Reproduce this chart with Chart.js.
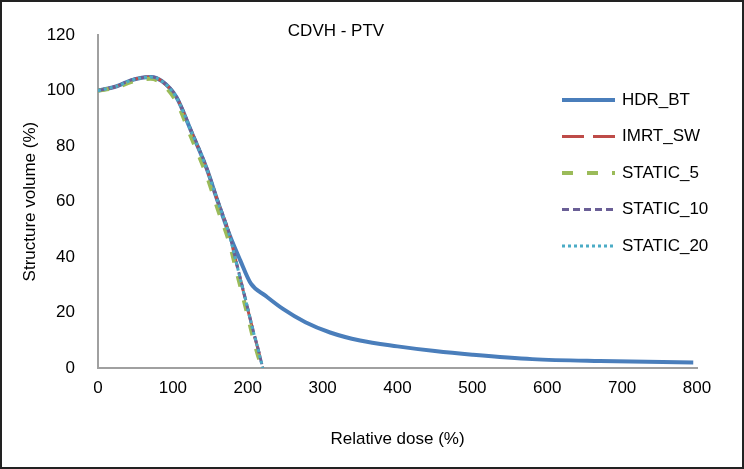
<!DOCTYPE html>
<html lang="en">
<head>
    <meta charset="UTF-8">
    <title>CDVH - PTV</title>
    <script src="https://cdn.jsdelivr.net/npm/chart.js"></script>
    <style>
        body { margin: 0; background: #fff; }
        #wrap { width: 744px; height: 469px; border: 2px solid #222; box-sizing: border-box; position: relative; }
    </style>
</head>
<body>
<div id="wrap"><canvas id="cdvhChart"></canvas></div>

<script>
    const chartTitle = 'CDVH - PTV';
    const xTitle = 'Relative dose (%)';
    const yTitle = 'Structure volume (%)';
    const seriesNames = ['HDR_BT', 'IMRT_SW', 'STATIC_5', 'STATIC_10', 'STATIC_20'];

    // HDR brachytherapy curve (long tail)
    const doseHDR = [0, 25, 45, 70, 85, 105, 125, 145, 160, 175, 190, 204, 224, 247, 277, 310, 350, 400, 450, 500, 580, 670, 795];
    const volHDR = [100, 101.6, 103.8, 104.9, 103.5, 97.5, 85, 72, 60, 48.5, 38.8, 30.5, 26, 21.3, 16.5, 12.8, 9.9, 7.8, 6.1, 4.8, 3.2, 2.5, 2.0];

    // external beam curves (all fall to zero near 220 %)
    const doseEBRT = [0, 25, 45, 70, 85, 105, 125, 145, 160, 175, 186, 197, 207, 214, 220];
    const volIMRT = [100, 101.6, 103.8, 104.9, 103.5, 97.5, 85, 72, 60, 48.5, 36.5, 24.5, 13.5, 6.5, 0];
    const volS5 = [100, 101.2, 103.2, 104.3, 102.6, 95.8, 82.8, 69.5, 57.2, 45.5, 33.8, 22, 11, 4.2, 0];
    const volS10 = [100, 101.7, 103.9, 105, 103.6, 97.7, 85.3, 72.3, 60.3, 48.7, 36.8, 24.8, 13.8, 6.7, 0];
    const volS20 = [100, 101.6, 103.8, 104.9, 103.5, 97.4, 85, 72, 60, 48.4, 36.6, 24.6, 13.6, 6.6, 0];

    const toPoints = (xs, ys) => xs.map((x, i) => ({ x: x, y: ys[i] }));

    const FONT = "'Liberation Sans', Arial, sans-serif";
    Chart.defaults.font.family = FONT;
    Chart.defaults.font.size = 17;
    Chart.defaults.color = '#000';

    // title + legend drawn inside the plot, like the original
    const overlay = {
        id: 'overlay',
        afterDraw(chart) {
            const ctx = chart.ctx;
            ctx.save();
            ctx.font = '17px ' + FONT;
            ctx.fillStyle = '#000';
            ctx.textAlign = 'center';
            ctx.textBaseline = 'middle';
            ctx.fillText(chartTitle, 334, 29);
            ctx.textAlign = 'left';
            chart.data.datasets.forEach((ds, i) => {
                const y = 98 + i * 36.5;
                ctx.beginPath();
                ctx.strokeStyle = ds.borderColor;
                ctx.lineWidth = ds.borderWidth;
                ctx.setLineDash(ds.borderDash || []);
                ctx.moveTo(560, y);
                ctx.lineTo(613, y);
                ctx.stroke();
                ctx.fillText(ds.label, 620, y);
            });
            ctx.restore();
        }
    };

    const ctx = document.getElementById('cdvhChart').getContext('2d');
    new Chart(ctx, {
        type: 'line',
        data: {
            datasets: [
                { label: seriesNames[0], data: toPoints(doseHDR, volHDR), borderColor: '#4a7ebb', borderWidth: 4, order: 4 },
                { label: seriesNames[1], data: toPoints(doseEBRT, volIMRT), borderColor: '#be4b48', borderWidth: 3, borderDash: [22, 9], order: 3 },
                { label: seriesNames[2], data: toPoints(doseEBRT, volS5), borderColor: '#9bbb59', borderWidth: 4, borderDash: [11, 14], order: 2 },
                { label: seriesNames[3], data: toPoints(doseEBRT, volS10), borderColor: '#6a5f96', borderWidth: 3, borderDash: [7, 4], order: 1 },
                { label: seriesNames[4], data: toPoints(doseEBRT, volS20), borderColor: '#4bacc6', borderWidth: 3, borderDash: [3, 3], order: 0 }
            ]
        },
        options: {
            responsive: true,
            maintainAspectRatio: false,
            animation: false,
            layout: { padding: { top: 33, right: 45, bottom: 0, left: 0 } },
            elements: {
                point: { radius: 0 },
                line: { cubicInterpolationMode: 'monotone', fill: false }
            },
            plugins: {
                legend: { display: false },
                tooltip: { enabled: false }
            },
            scales: {
                x: {
                    type: 'linear',
                    min: 0,
                    max: 800,
                    afterFit: (s) => { s.height = 99; },
                    grid: { display: false, drawTicks: false },
                    border: { display: true, color: '#a0a0a0', width: 2 },
                    ticks: { stepSize: 100, padding: 10, maxRotation: 0, autoSkip: false },
                    title: { display: true, text: xTitle, padding: { top: 0, bottom: 17 } }
                },
                y: {
                    min: 0,
                    max: 120,
                    afterFit: (s) => { s.width = 96; },
                    grid: { display: false, drawTicks: false },
                    border: { display: true, color: '#a0a0a0', width: 2 },
                    ticks: { stepSize: 20, padding: 23 },
                    title: { display: true, text: yTitle, padding: { top: 18, bottom: 0 } }
                }
            }
        },
        plugins: [overlay]
    });
</script>
</body>
</html>
